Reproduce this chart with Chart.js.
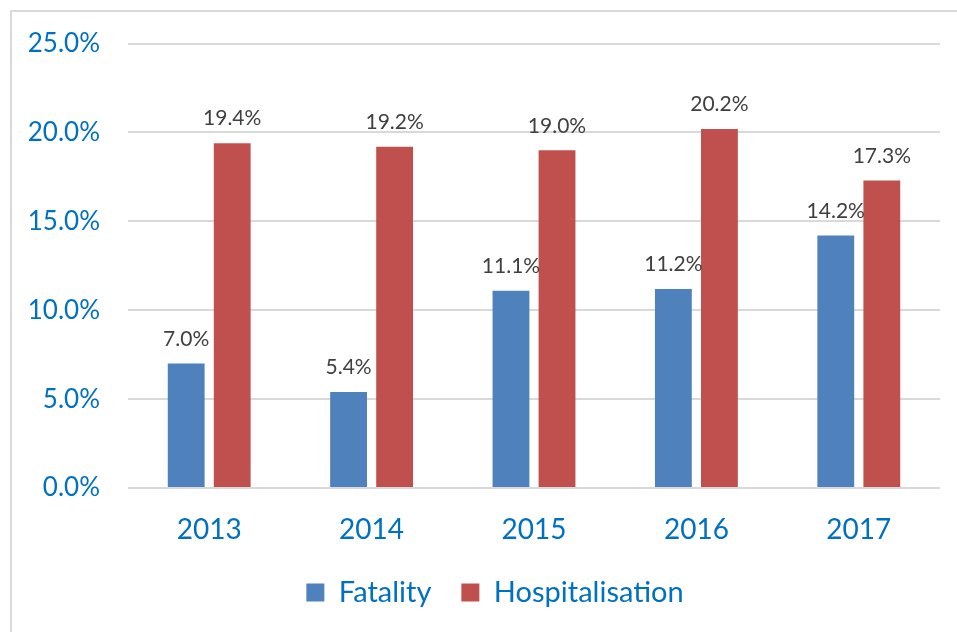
<!DOCTYPE html>
<html>
<head>
<meta charset="utf-8">
<script src="https://cdn.jsdelivr.net/npm/chart.js@4"></script>
<style>
  html, body { margin:0; padding:0; background:#fff; }
  #wrap { position:absolute; left:0; top:0; width:957px; height:632px; overflow:hidden; }
  #frame { position:absolute; left:10px; top:10px; width:980px; height:660px; border:2px solid #d9d9d9; box-sizing:border-box; }
  canvas { position:absolute; left:0; top:0; }
</style>
</head>
<body>
<div id="wrap">
  <div id="frame"></div>
  <canvas id="c" width="957" height="632"></canvas>
</div>
<script>
const categories = ["2013", "2014", "2015", "2016", "2017"];
const fatality = [7.0, 5.4, 11.1, 11.2, 14.2];
const hospitalisation = [19.4, 19.2, 19.0, 20.2, 17.3];
const yTicks = [0, 5, 10, 15, 20, 25];

const FONT = "Lato, 'Open Sans', sans-serif";
const BLUE_TXT = "#0070C0";

const labelPlugin = {
  id: 'valueLabels',
  afterLayout(chart) {
    if (chart.legend) { chart.legend.left += 20; chart.legend.right += 20; }
  },
  afterDatasetsDraw(chart) {
    const ctx = chart.ctx;
    ctx.save();
    ctx.font = "21px " + FONT;
    ctx.fillStyle = "#404040";
    ctx.textAlign = "center";
    ctx.textBaseline = "bottom";
    chart.data.datasets.forEach((ds, i) => {
      const meta = chart.getDatasetMeta(i);
      meta.data.forEach((bar, j) => {
        ctx.fillText(ds.data[j].toFixed(1) + "%", bar.x, bar.y - 14);
      });
    });
    ctx.restore();
  }
};

new Chart(document.getElementById('c'), {
  type: 'bar',
  data: {
    labels: categories,
    datasets: [
      { label: "Fatality", data: fatality, backgroundColor: "#4F81BD" },
      { label: "Hospitalisation", data: hospitalisation, backgroundColor: "#C0504D" }
    ]
  },
  options: {
    responsive: false,
    animation: false,
    devicePixelRatio: 1,
    layout: { padding: { left: 10, right: 17, top: 41, bottom: 15 } },
    datasets: { bar: { categoryPercentage: 0.567, barPercentage: 0.80 } },
    scales: {
      x: {
        grid: { display: false, drawTicks: false },
        border: { display: false },
        ticks: { color: BLUE_TXT, font: { family: FONT, size: 28 }, padding: 25 },
        afterFit(axis) { axis.height = 60; }
      },
      y: {
        min: 0, max: 25,
        afterBuildTicks(axis) { axis.ticks = yTicks.map(v => ({ value: v })); },
        grid: { color: "#d9d9d9", lineWidth: 2, drawTicks: false },
        border: { display: false },
        ticks: {
          color: BLUE_TXT, font: { family: FONT, size: 26 }, padding: 28,
          callback: v => v.toFixed(1) + "%"
        },
        afterFit(axis) { axis.width = 118; }
      }
    },
    plugins: {
      legend: {
        position: 'bottom',
        labels: {
          color: BLUE_TXT, font: { family: FONT, size: 29 },
          boxWidth: 18, boxHeight: 18, padding: 30
        }
      },
      tooltip: { enabled: false }
    }
  },
  plugins: [labelPlugin]
});
</script>
</body>
</html>
